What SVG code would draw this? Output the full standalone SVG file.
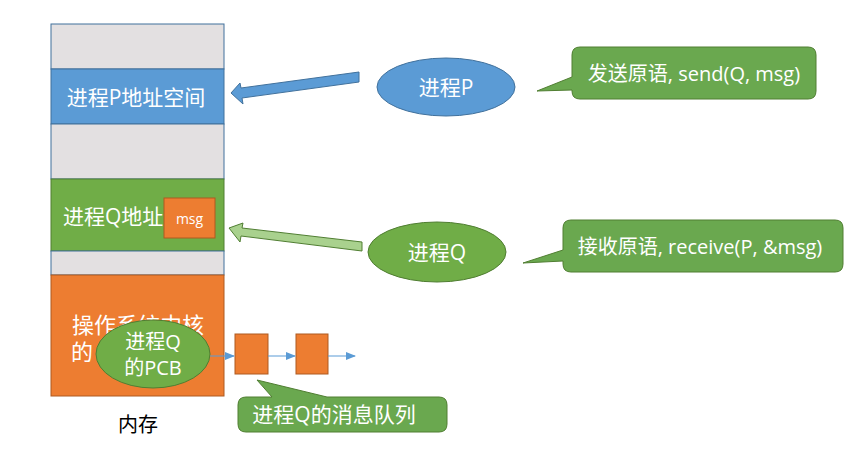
<svg xmlns="http://www.w3.org/2000/svg" width="860" height="459" viewBox="0 0 860 459">
<style>
text{font-family:"Open Sans","Noto Sans CJK SC",sans-serif;fill:#fff;text-anchor:middle;dominant-baseline:central}
.gray{fill:#e3e0e1;stroke:#41719c;stroke-width:1}
.blue{fill:#5b9bd5;stroke:#41719c;stroke-width:1}
.green{fill:#70ad47;stroke:#507e32;stroke-width:1}
.orange{fill:#ed7d31;stroke:#ae5a21;stroke-width:1}
.callout{fill:#6aa84f;stroke:#507e32;stroke-width:1}
.thin{stroke:#5b9bd5;stroke-width:1;fill:none}
</style>
<defs>
<marker id="ah" markerWidth="10" markerHeight="8" refX="9" refY="4" orient="auto" markerUnits="userSpaceOnUse">
<path d="M0,0 L10,4 L0,8 z" fill="#5b9bd5"/>
</marker>
</defs>
<rect width="860" height="459" fill="#fff"/>

<g id="memory">
<rect class="gray" x="51" y="24" width="173" height="45"/>
<rect class="blue" x="51" y="69" width="173" height="55"/>
<rect class="gray" x="51" y="124" width="173" height="55"/>
<rect class="green" x="51" y="179" width="173" height="72"/>
<rect class="gray" x="51" y="251" width="173" height="24"/>
<rect class="orange" x="51" y="275" width="173" height="121"/>
<text x="136" y="97" font-size="21">进程P地址空间</text>
<text x="63" y="216" font-size="21" style="text-anchor:start">进程Q地址</text>
<text x="138" y="324" font-size="22">操作系统内核</text>
<text x="82" y="351" font-size="22">的</text>
<text x="138" y="423" font-size="20" style="fill:#000;font-family:'Noto Sans CJK SC',sans-serif">内存</text>
</g>

<g id="msg">
<rect class="orange" x="164" y="198" width="51" height="40"/>
<text x="189.5" y="218" font-size="14">msg</text>
</g>

<g id="pcb">
<ellipse class="green" cx="153" cy="354" rx="57" ry="34"/>
<text x="153" y="341" font-size="20">进程Q</text>
<text x="153" y="367" font-size="20">的PCB</text>
</g>

<g id="queue1"><rect class="orange" x="235" y="334" width="33" height="40"/></g>
<g id="queue2"><rect class="orange" x="296" y="334" width="32" height="40"/></g>

<g id="procP">
<ellipse class="blue" cx="446" cy="87" rx="69" ry="29"/>
<text x="446" y="87" font-size="21">进程P</text>
</g>

<g id="procQ">
<ellipse class="green" cx="437" cy="252" rx="69" ry="30"/>
<text x="437" y="252" font-size="21">进程Q</text>
</g>

<g id="sendCallout">
<path class="callout" d="M580,47 H808 Q816,47 816,55 V91 Q816,99 808,99 H580 Q572,99 572,91 V90 L537,91 L572,77 V55 Q572,47 580,47 Z"/>
<text x="694" y="73" font-size="20">发送原语, send(Q, msg)</text>
</g>

<g id="recvCallout">
<path class="callout" d="M571,220 H835 Q843,220 843,228 V264 Q843,272 835,272 H571 Q563,272 563,264 V261 L523,263 L563,250 V228 Q563,220 571,220 Z"/>
<text x="700" y="246" font-size="20">接收原语, receive(P, &amp;msg)</text>
</g>

<g id="queueCallout">
<path class="callout" d="M246,397 H272 L257,380 L327,397 H439 Q447,397 447,405 V424 Q447,432 439,432 H246 Q238,432 238,424 V405 Q238,397 246,397 Z"/>
<text x="334" y="414" font-size="21">进程Q的消息队列</text>
</g>

<g id="connectors">
<path d="M359,72 L359,82 L242,98 L243,104 L231,93 L240,83 L241,88 Z" fill="#5b9bd5" stroke="#41719c" stroke-width="1"/>
<path d="M362,242 L362,251 L241,236 L240,242 L229,228 L243,223 L242,228 Z" fill="#a9d18e" stroke="#507e32" stroke-width="1"/>
<line class="thin" x1="210" y1="356" x2="234" y2="356" marker-end="url(#ah)"/>
<line class="thin" x1="268" y1="356" x2="295" y2="356" marker-end="url(#ah)"/>
<line class="thin" x1="328" y1="356" x2="355" y2="356" marker-end="url(#ah)"/>
</g>
</svg>
